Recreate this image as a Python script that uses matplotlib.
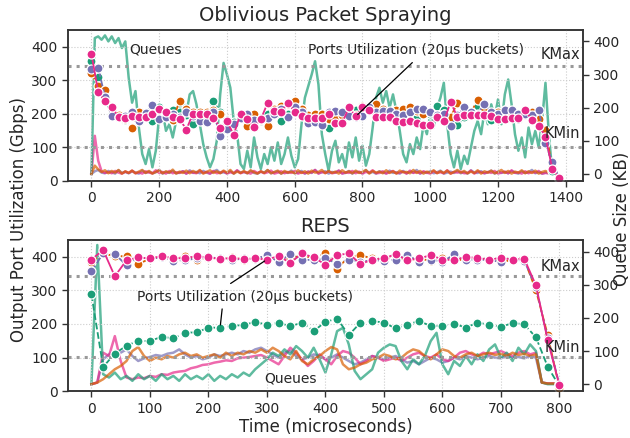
import numpy as np
import matplotlib
matplotlib.use('Agg')
import matplotlib.pyplot as plt
import matplotlib.transforms as mtransforms

# colours (Dark2)
c_green, c_orange, c_purple, c_pink = '#1b9e77', '#d95f02', '#7570b3', '#e7298a'

# ---------------- Oblivious Packet Spraying ----------------
ops_t = np.arange(0, 1400, 20)
ops_green = [358, 310, 240, 200, 190, 180, 200, 200, 195, 179, 220, 200, 210, 205, 195, 170, 195, 190, 238, 205,
             180, 175, 190, 195, 185, 178, 200, 210, 177, 200, 212, 215, 190, 195, 185, 159, 184, 180, 200, 210,
             200, 210, 205, 200, 195, 205, 210, 195, 190, 210, 200, 224, 210, 185, 165, 189, 205, 222, 200, 180,
             205, 210, 200, 185, 195, 190, 180, 140, 30, 6]
ops_orange = [320, 283, 270, 215, 195, 185, 159, 204, 200, 200, 210, 195, 180, 238, 215, 205, 205, 205, 210, 198,
              175, 165, 190, 163, 200, 180, 162, 215, 222, 228, 238, 215, 195, 200, 200, 185, 190, 195, 205, 197,
              224, 215, 229, 215, 205, 210, 215, 220, 209, 200, 205, 195, 200, 190, 232, 215, 205, 240, 215, 200,
              205, 195, 200, 195, 200, 205, 184, 152, 40, 5]
ops_purple = [333, 337, 250, 192, 190, 194, 206, 177, 203, 225, 185, 190, 200, 190, 205, 192, 178, 175, 205, 134,
              154, 170, 187, 200, 182, 185, 188, 200, 215, 190, 220, 205, 172, 174, 167, 204, 209, 204, 194, 190,
              194, 219, 205, 207, 209, 200, 197, 205, 214, 214, 205, 195, 200, 164, 195, 220, 205, 200, 229, 205,
              200, 212, 212, 200, 200, 195, 212, 112, 56, 10]
ops_pink = [378, 265, 237, 221, 190, 186, 192, 190, 189, 198, 214, 205, 190, 185, 153, 200, 200, 200, 188, 159,
            178, 137, 200, 183, 160, 184, 232, 207, 206, 232, 206, 193, 188, 188, 188, 198, 172, 172, 219, 192,
            220, 210, 189, 189, 190, 177, 174, 177, 172, 167, 167, 190, 177, 235, 190, 197, 197, 197, 195, 194,
            184, 184, 187, 187, 212, 180, 164, 132, 36, 8]

# queue sizes (KB)
ops_qt = np.arange(0, 1380, 10)
ops_q_green = [0, 410, 415, 405, 418, 400, 415, 395, 410, 380, 400, 290, 215, 250, 140, 60, 30, 75, 20, 70,
               175, 190, 130, 150, 110, 160, 195, 225, 180, 240, 250, 210, 150, 90, 50, 20, 45, 100, 240, 335,
               300, 260, 160, 120, 30, 15, 70, 20, 110, 50, 15, 60, 30, 80, 40, 95, 30, 60, 110, 55,
               20, 45, 150, 230, 265, 300, 340, 270, 120, 60, 10, 70, 100, 35, 60, 20, 95, 50, 110, 40,
               85, 25, 60, 140, 230, 260, 215, 250, 200, 240, 190, 130, 60, 35, 90, 60, 110, 75, 150, 120,
               180, 140, 200, 230, 275, 150, 60, 20, 70, 15, 55, 30, 80, 130, 160, 120, 190, 150, 210, 170,
               225, 150, 240, 285, 210, 120, 70, 110, 50, 140, 90, 130, 80, 160, 275, 120, 5, 0]
ops_q_lt = np.arange(0, 1380, 10)
ops_q_orange = [0, 25, 14, 6, 11, 2, 9, 4, 12, 1, 8, 3, 10, 2, 7, 12, 3, 9, 1, 6, 11, 2, 8, 4, 13, 1, 7, 3, 10, 2,
                9, 4, 12, 1, 6, 11, 3, 8, 2, 10, 4, 12, 1, 7, 3, 9, 2, 11, 5, 1, 8, 3, 12, 2, 6, 10, 1, 9, 4, 7,
                2, 11, 3, 8, 1, 10, 4, 6, 12, 2, 9, 3, 7, 1, 11, 4, 8, 2, 10, 3, 6, 12, 1, 9, 4, 7, 2, 11, 3, 8,
                1, 10, 5, 6, 2, 12, 3, 9, 1, 7, 4, 11, 2, 8, 3, 10, 1, 6, 12, 4, 9, 2, 7, 3, 11, 1, 8, 4, 10, 2,
                6, 12, 3, 9, 1, 7, 4, 11, 2, 8, 3, 10, 1, 6, 9, 4, 2, 1]
ops_q_purple = [0, 8, 12, 4, 2, 9, 5, 1, 11, 3, 6, 2, 8, 4, 1, 10, 3, 7, 2, 5, 12, 1, 6, 3, 9, 2, 4, 8, 1, 11,
                3, 6, 2, 9, 4, 1, 7, 12, 3, 5, 2, 8, 1, 10, 4, 6, 2, 9, 3, 1, 7, 4, 11, 2, 5, 8, 1, 6, 3, 10,
                2, 4, 9, 1, 7, 3, 12, 2, 5, 8, 1, 6, 4, 10, 2, 3, 9, 1, 7, 5, 2, 11, 3, 6, 1, 8, 4, 2, 10, 3,
                5, 1, 9, 2, 7, 4, 12, 1, 6, 3, 8, 2, 5, 10, 1, 4, 7, 3, 9, 2, 6, 1, 11, 4, 3, 8, 2, 5, 10, 1,
                7, 3, 6, 2, 9, 4, 1, 8, 3, 5, 12, 2, 6, 1, 4, 2, 1, 0]
ops_q_pink = [0, 115, 40, 8, 3, 6, 2, 9, 4, 1, 7, 3, 10, 2, 5, 1, 8, 4, 2, 11, 3, 6, 1, 9, 2, 5, 3, 8, 1, 7,
              4, 2, 10, 3, 6, 1, 9, 2, 4, 8, 1, 5, 3, 11, 2, 6, 4, 1, 9, 3, 7, 2, 5, 10, 1, 4, 8, 2, 6, 3,
              9, 1, 5, 2, 7, 4, 12, 1, 6, 3, 8, 2, 4, 10, 1, 5, 3, 9, 2, 7, 1, 6, 4, 11, 2, 3, 8, 1, 5, 9,
              2, 4, 7, 1, 10, 3, 6, 2, 8, 4, 1, 9, 3, 5, 2, 11, 1, 6, 4, 7, 2, 3, 10, 1, 8, 5, 2, 6, 3, 9,
              1, 4, 7, 2, 11, 3, 5, 1, 8, 2, 6, 4, 9, 1, 3, 2, 1, 0]

# ---------------- REPS ----------------
reps_t = np.arange(0, 820, 20)
reps_green = [288, 72, 112, 135, 150, 149, 162, 157, 174, 175, 189, 189, 194, 197, 206, 198, 204, 193, 204, 179,
              206, 216, 167, 204, 209, 204, 187, 198, 209, 194, 194, 201, 189, 204, 198, 191, 203, 199, 160, 73, 15]
reps_orange = [385, 410, 402, 402, 378, 395, 398, 392, 402, 392, 396, 395, 398, 392, 396, 400, 396, 395, 405, 395,
               412, 365, 400, 405, 395, 392, 398, 390, 395, 388, 395, 392, 390, 395, 392, 385, 390, 392, 300, 168, 10]
reps_purple = [357, 410, 408, 375, 398, 395, 398, 388, 390, 395, 398, 396, 390, 395, 393, 405, 385, 408, 392, 390,
               395, 380, 392, 385, 390, 388, 392, 405, 385, 392, 385, 407, 390, 392, 390, 385, 392, 388, 310, 157, 20]
reps_pink = [392, 420, 342, 390, 398, 395, 402, 396, 396, 402, 398, 394, 396, 393, 395, 392, 402, 382, 410, 398,
             377, 405, 410, 378, 392, 395, 408, 390, 395, 405, 392, 390, 400, 396, 392, 396, 392, 394, 315, 152, 18]

reps_qt = np.arange(0, 800, 10)
reps_q_green = [0, 420, 30, 20, 35, 15, 25, 10, 30, 15, 25, 10, 30, 15, 25, 10, 30, 15, 25, 15,
                30, 10, 25, 15, 30, 20, 35, 25, 45, 60, 75, 95, 85, 105, 90, 115, 100, 80, 110, 75,
                35, 90, 160, 170, 120, 40, 15, 30, 45, 95, 110, 120, 115, 70, 45, 75, 60, 85, 130, 155,
                60, 30, 70, 55, 85, 60, 90, 70, 105, 120, 80, 95, 70, 110, 90, 120, 100, 5, 0, 0]
reps_q_orange = [0, 5, 15, 30, 45, 55, 70, 100, 112, 85, 70, 80, 75, 85, 80, 90, 95, 85, 90, 80,
                 85, 90, 80, 95, 85, 95, 90, 100, 95, 105, 95, 110, 100, 85, 75, 100, 70, 60, 75, 85,
                 100, 112, 105, 60, 45, 50, 60, 65, 75, 80, 90, 85, 75, 80, 95, 105, 100, 85, 75, 90,
                 105, 100, 85, 80, 90, 95, 85, 90, 95, 88, 92, 85, 95, 88, 92, 85, 90, 5, 2, 2]
reps_q_purple = [0, 5, 75, 90, 100, 95, 105, 85, 70, 78, 82, 88, 85, 92, 95, 105, 90, 80, 85, 75,
                 80, 90, 85, 90, 95, 90, 100, 95, 105, 110, 100, 90, 80, 95, 100, 85, 75, 80, 90, 85,
                 75, 80, 90, 80, 70, 60, 65, 75, 85, 80, 75, 80, 85, 75, 65, 70, 60, 70, 80, 75,
                 65, 70, 80, 75, 85, 80, 75, 80, 85, 80, 78, 85, 80, 82, 78, 85, 80, 5, 2, 2]
reps_q_pink = [0, 5, 95, 85, 145, 70, 20, 15, 20, 18, 25, 22, 30, 28, 35, 38, 40, 48, 52, 58,
               60, 65, 68, 72, 70, 78, 80, 82, 85, 88, 80, 70, 60, 85, 110, 95, 75, 55, 70, 90,
               75, 60, 85, 100, 95, 80, 60, 70, 85, 80, 70, 75, 80, 70, 80, 90, 95, 85, 80, 90,
               75, 70, 80, 95, 100, 90, 85, 95, 90, 95, 100, 92, 85, 95, 100, 90, 95, 5, 2, 2]

k_max, k_min = 343, 101

plt.rcParams['font.family'] = 'DejaVu Sans'
plt.rcParams['text.color'] = '#262626'
plt.rcParams['axes.labelcolor'] = '#262626'
plt.rcParams['xtick.color'] = '#262626'
plt.rcParams['ytick.color'] = '#262626'
plt.rcParams['xtick.labelsize'] = 10
plt.rcParams['ytick.labelsize'] = 10

fig = plt.figure(figsize=(6.3, 4.38), dpi=100)
ax1 = fig.add_axes([0.108, 0.587, 0.817, 0.345])
ax2 = fig.add_axes([0.108, 0.107, 0.817, 0.345])

colors = [c_green, c_orange, c_purple, c_pink]
styles = ['--', '--', '--', '-']
# queues drawn purple, pink, green, orange so the orange band stays on top
q_order = [2, 3, 0, 1]


def panel(ax, title, t, util, qt_list, queues, xlim, xticks):
    tw = ax.twinx()
    for i in q_order:
        tw.plot(qt_list[i], queues[i], color=colors[i], alpha=0.7, lw=1.8)
    for u, c, ls in zip(util, colors, styles):
        ax.plot(t, u, color=c, ls=ls, lw=1.3, marker='o', ms=6.5,
                mec='white', mew=0.9)
    ax.axhline(k_max, color='#999999', ls=':', lw=2.2, zorder=1)
    ax.axhline(k_min, color='#999999', ls=':', lw=2.2, zorder=1)
    ax.set_zorder(tw.get_zorder() + 1)
    ax.patch.set_visible(False)
    ax.set_xlim(*xlim)
    ax.set_xticks(xticks)
    ax.set_ylim(0, 450)
    ax.set_yticks([0, 100, 200, 300, 400])
    tw.set_ylim(-21, 435)
    tw.set_yticks([0, 100, 200, 300, 400])
    ax.grid(True, color='#cccccc', ls=':', lw=0.8)
    ax.set_axisbelow(True)
    for a in (ax, tw):
        for s in a.spines.values():
            s.set_color('#333333')
            s.set_linewidth(1.1)
        a.tick_params(direction='out', length=4, width=1, color='#333333')
    ax.set_title(title, fontsize=14, color='#262626')
    return tw


tw1 = panel(ax1, 'Oblivious Packet Spraying', ops_t,
            [ops_green, ops_orange, ops_purple, ops_pink],
            [ops_qt, ops_q_lt, ops_q_lt, ops_q_lt],
            [ops_q_green, ops_q_orange, ops_q_purple, ops_q_pink],
            (-69, 1450), [0, 200, 400, 600, 800, 1000, 1200, 1400])
tw2 = panel(ax2, 'REPS', reps_t,
            [reps_green, reps_orange, reps_purple, reps_pink],
            [reps_qt] * 4,
            [reps_q_green, reps_q_orange, reps_q_purple, reps_q_pink],
            (-40, 840), [0, 100, 200, 300, 400, 500, 600, 700, 800])

# annotations
for ax, ymax, ymin in [(ax1, 376, 140), (ax2, 372, 131)]:
    tr = mtransforms.blended_transform_factory(ax.transAxes, ax.transData)
    ax.text(0.995, ymax, 'KMax', transform=tr, ha='right', va='center', fontsize=10.5)
    ax.text(0.995, ymin, 'KMin', transform=tr, ha='right', va='center', fontsize=10.5)

ax1.text(113, 391, 'Queues', ha='left', va='center', fontsize=10)
ax1.text(959, 391, 'Ports Utilization (20µs buckets)', ha='center', va='center', fontsize=10)
ax1.annotate('', xy=(780, ops_pink[39]), xytext=(953, 358),
             arrowprops=dict(arrowstyle='-', color='black', lw=0.9))

ax2.text(296, 39, 'Queues', ha='left', va='center', fontsize=10)
ax2.text(262, 281, 'Ports Utilization (20µs buckets)', ha='center', va='center', fontsize=10)
ax2.annotate('', xy=(300, reps_pink[15]), xytext=(234, 316),
             arrowprops=dict(arrowstyle='-', color='black', lw=0.9))
ax2.annotate('', xy=(220, reps_green[11]), xytext=(224, 253),
             arrowprops=dict(arrowstyle='-', color='black', lw=0.9))

ax2.set_xlabel('Time (microseconds)', fontsize=12, labelpad=2)
fig.text(0.03, 0.5, 'Output Port Utilization (Gbps)', rotation=90, ha='center', va='center', fontsize=12)
fig.text(0.987, 0.5, 'Queue Size (KB)', rotation=90, ha='center', va='center', fontsize=12)

fig.savefig('out.png', dpi=100)
